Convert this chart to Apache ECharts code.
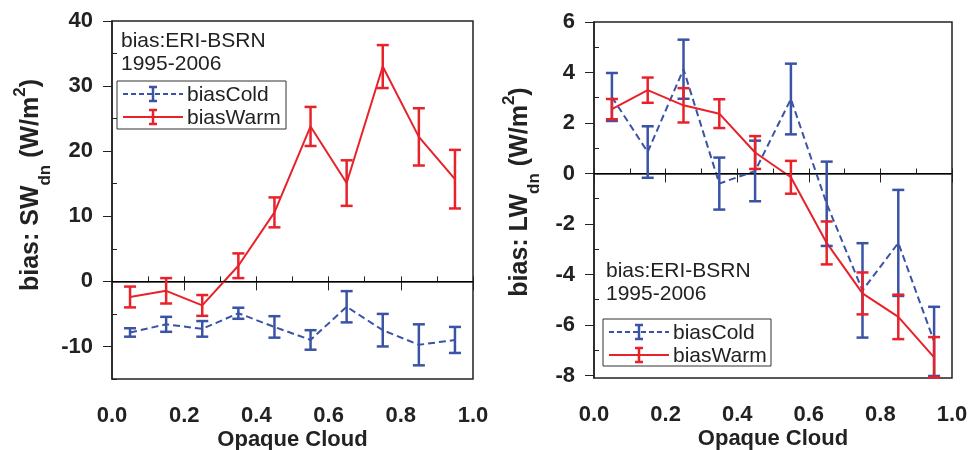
<!DOCTYPE html>
<html>
<head>
<meta charset="utf-8">
<script src="https://cdn.jsdelivr.net/npm/echarts@6/dist/echarts.min.js"></script>
<style>html,body{margin:0;padding:0;background:#fff}#c{width:978px;height:450px}</style>
</head>
<body>
<div id="c"></div>
<script>
// ---- Data ----
const cloudBins = [0.05, 0.15, 0.25, 0.35, 0.45, 0.55, 0.65, 0.75, 0.85, 0.95];
const swColdMean = [-7.85, -6.6, -7.3, -4.9, -7.0, -9.0, -3.9, -7.5, -9.75, -9.0];
const swColdErr  = [0.65, 1.15, 1.2, 0.85, 1.65, 1.5, 2.4, 2.5, 3.15, 2.0];
const swWarmMean = [-2.4, -1.45, -3.7, 2.4, 10.6, 23.8, 15.1, 33.0, 22.2, 15.7];
const swWarmErr  = [1.6, 1.95, 1.6, 1.9, 2.3, 3.0, 3.5, 3.3, 4.4, 4.5];
const lwColdMean = [3.03, 0.85, 4.13, -0.4, 0.1, 2.95, -1.2, -4.63, -2.75, -6.65];
const lwColdErr  = [0.95, 1.02, 1.17, 1.03, 1.2, 1.4, 1.67, 1.87, 2.1, 1.37];
const lwWarmMean = [2.55, 3.3, 2.7, 2.37, 0.83, -0.15, -2.75, -4.75, -5.68, -7.28];
const lwWarmErr  = [0.4, 0.5, 0.68, 0.57, 0.65, 0.65, 0.85, 0.83, 0.88, 0.8];
const swYLabels = [-10, 0, 10, 20, 30, 40];
const swYMinor = [-15, -5, 5, 15, 25, 35];
const lwYLabels = [-8, -6, -4, -2, 0, 2, 4, 6];
const lwYMinor = [-7, -5, -3, -1, 1, 3, 5];
const seriesNames = ['biasCold', 'biasWarm'];
const noteLines = ['bias:ERI-BSRN', '1995-2006'];

// ---- Style ----
const RED = '#e8222a';
const BLUE = '#3a53a4';
const INK = '#222';
const FONT = 'Liberation Sans, Arial, sans-serif';

const chart = echarts.init(document.getElementById('c'));

function pairs(m) { return cloudBins.map((x, i) => [x, m[i]]); }
function triples(m, e) { return cloudBins.map((x, i) => [x, m[i], e[i]]); }

function errRender(color) {
  return function (params, api) {
    const x = api.value(0), y = api.value(1), e = api.value(2);
    const t = api.coord([x, y + e]);
    const b = api.coord([x, y - e]);
    const hw = 6;
    const st = { stroke: color, lineWidth: 2.5 };
    return {
      type: 'group',
      children: [
        { type: 'line', shape: { x1: t[0], y1: t[1], x2: b[0], y2: b[1] }, style: st },
        { type: 'line', shape: { x1: t[0] - hw, y1: t[1], x2: t[0] + hw, y2: t[1] }, style: st },
        { type: 'line', shape: { x1: b[0] - hw, y1: b[1], x2: b[0] + hw, y2: b[1] }, style: st }
      ]
    };
  };
}

const labelStyle = { color: INK, fontFamily: FONT, fontWeight: 'bold', fontSize: 22 };

function xMajor(gi) {
  return {
    type: 'value', gridIndex: gi, min: 0, max: 1, interval: 0.2,
    axisLine: { show: true, lineStyle: { color: INK, width: 1.5 } },
    axisTick: { show: true, length: 9, lineStyle: { color: INK, width: 1 } },
    axisLabel: Object.assign({ margin: 26, formatter: v => v.toFixed(1) }, labelStyle),
    splitLine: { show: false },
    name: 'Opaque Cloud', nameLocation: 'middle', nameGap: 50, nameMoveOverlap: false,
    nameTextStyle: { color: INK, fontFamily: FONT, fontWeight: 'bold', fontSize: 22 }
  };
}
function xMinor(gi) {
  return {
    type: 'value', gridIndex: gi, min: 0, max: 1, interval: 0.1,
    axisLine: { show: false },
    axisTick: { show: true, length: 5, lineStyle: { color: INK, width: 1 } },
    axisLabel: { show: false }, splitLine: { show: false }
  };
}
function yMajor(gi, min, max, vals, name, gap, shift) {
  return {
    type: 'value', gridIndex: gi, min: min, max: max,
    axisLine: { show: true, lineStyle: { color: INK, width: 1.5 } },
    axisTick: { show: true, length: 9, customValues: vals, lineStyle: { color: INK, width: 1 } },
    axisLabel: Object.assign({ margin: 19, customValues: vals }, labelStyle),
    splitLine: { show: false },
    name: name, nameLocation: 'middle', nameGap: gap, nameRotate: 90, nameMoveOverlap: false,
    nameTextStyle: {
      color: INK, fontFamily: FONT, fontWeight: 'bold', fontSize: 25,
      padding: [0, 0, 0, shift],
      rich: {
        n: { color: INK, fontFamily: FONT, fontWeight: 'bold', fontSize: 25, lineHeight: 46, verticalAlign: 'middle' },
        sub: { color: INK, fontFamily: FONT, fontWeight: 'bold', fontSize: 17, lineHeight: 46, verticalAlign: 'bottom' },
        sup: { color: INK, fontFamily: FONT, fontWeight: 'bold', fontSize: 17, lineHeight: 46, verticalAlign: 'top', padding: [4, 0, 0, 0] }
      }
    }
  };
}
function yMinor(gi, min, max, vals) {
  return {
    type: 'value', gridIndex: gi, min: min, max: max,
    axisLine: { show: false },
    axisTick: { show: true, length: 5, customValues: vals, lineStyle: { color: INK, width: 1 } },
    axisLabel: { show: false, customValues: vals }, splitLine: { show: false }
  };
}

function lineSeries(name, xi, yi, data, color, dashed, zero) {
  const s = {
    name: name, type: 'line', xAxisIndex: xi, yAxisIndex: yi, data: data,
    symbol: 'none', silent: true, z: dashed ? 3 : 4,
    lineStyle: { color: color, width: 2, type: dashed ? [7, 4] : 'solid' }
  };
  if (zero) {
    s.markLine = {
      silent: true, symbol: 'none', label: { show: false },
      lineStyle: { color: '#000', width: 1, type: 'solid' },
      data: [{ yAxis: 0 }]
    };
  }
  return s;
}
function errSeries(name, xi, yi, data, color) {
  return {
    name: name, type: 'custom', xAxisIndex: xi, yAxisIndex: yi, data: data,
    renderItem: errRender(color), silent: true, z: 5,
    encode: { x: 0, y: [1] }
  };
}

function legendBlock(x, y, w, h, noteX, noteY) {
  const els = [];
  const f = '21px ' + FONT;
  els.push({ type: 'text', left: noteX, top: noteY, style: { text: noteLines[0], font: f, fill: INK } });
  els.push({ type: 'text', left: noteX, top: noteY + 23, style: { text: noteLines[1], font: f, fill: INK } });
  els.push({ type: 'rect', shape: { x: x, y: y, width: w, height: h }, style: { fill: '#fff', stroke: '#333', lineWidth: 1 }, z: 10 });
  const rows = [
    { name: seriesNames[0], color: BLUE, dash: [5, 3], cy: y + 13 },
    { name: seriesNames[1], color: RED, dash: null, cy: y + 36 }
  ];
  rows.forEach(r => {
    els.push({ type: 'line', shape: { x1: x + 6, y1: r.cy, x2: x + 66, y2: r.cy }, style: { stroke: r.color, lineWidth: 2, lineDash: r.dash }, z: 11 });
    const cx = x + 36;
    els.push({ type: 'line', shape: { x1: cx, y1: r.cy - 7, x2: cx, y2: r.cy + 7 }, style: { stroke: r.color, lineWidth: 2.5 }, z: 11 });
    els.push({ type: 'line', shape: { x1: cx - 4, y1: r.cy - 7, x2: cx + 4, y2: r.cy - 7 }, style: { stroke: r.color, lineWidth: 2.5 }, z: 11 });
    els.push({ type: 'line', shape: { x1: cx - 4, y1: r.cy + 7, x2: cx + 4, y2: r.cy + 7 }, style: { stroke: r.color, lineWidth: 2.5 }, z: 11 });
    els.push({ type: 'text', x: x + 70, y: r.cy + 1, style: { text: r.name, font: f, fill: INK, textVerticalAlign: 'middle' }, z: 11 });
  });
  return els;
}

const gridBase = { show: true, borderColor: INK, borderWidth: 1.5, backgroundColor: 'transparent', containLabel: false, outerBoundsMode: 'none' };

const option = {
  backgroundColor: '#fff',
  animation: false,
  grid: [
    Object.assign({ left: 112, top: 21, width: 361, height: 358 }, gridBase),
    Object.assign({ left: 594, top: 22, width: 358, height: 356 }, gridBase)
  ],
  xAxis: [xMajor(0), xMinor(0), xMajor(1), xMinor(1)],
  yAxis: [
    yMajor(0, -15, 40, swYLabels, '{n|bias: SW}{sub|dn}{n| (W/m}{sup|2}{n|)}', 58, 30),
    yMinor(0, -15, 40, swYMinor),
    yMajor(1, -8.1, 6, lwYLabels, '{n|bias: LW}{sub|dn}{n| (W/m}{sup|2}{n|)}', 51, 16),
    yMinor(1, -8.1, 6, lwYMinor)
  ],
  series: [
    lineSeries(seriesNames[0], 0, 0, pairs(swColdMean), BLUE, true, true),
    errSeries(seriesNames[0], 0, 0, triples(swColdMean, swColdErr), BLUE),
    lineSeries(seriesNames[1], 0, 0, pairs(swWarmMean), RED, false, false),
    errSeries(seriesNames[1], 0, 0, triples(swWarmMean, swWarmErr), RED),
    lineSeries(seriesNames[0], 2, 2, pairs(lwColdMean), BLUE, true, true),
    errSeries(seriesNames[0], 2, 2, triples(lwColdMean, lwColdErr), BLUE),
    lineSeries(seriesNames[1], 2, 2, pairs(lwWarmMean), RED, false, false),
    errSeries(seriesNames[1], 2, 2, triples(lwWarmMean, lwWarmErr), RED)
  ],
  graphic: [].concat(
    legendBlock(117, 81, 169, 48, 121, 31),
    legendBlock(603, 319, 168, 47, 606, 261)
  )
};
chart.setOption(option);
</script>
</body>
</html>
